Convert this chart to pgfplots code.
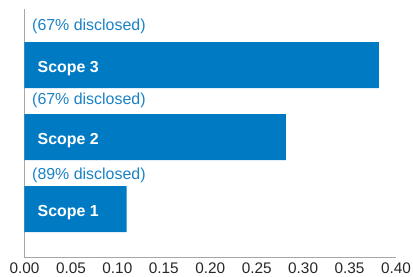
\documentclass[border=0pt]{standalone}
\usepackage{pgfplots}
\pgfplotsset{compat=1.18}
\usepackage{fontspec}
\setmainfont{Liberation Sans}
\definecolor{barblue}{HTML}{007BC3}
\definecolor{txtblue}{HTML}{1A82C6}
\begin{document}
\begin{tikzpicture}
\path (0,0) rectangle (413bp,277bp);
\begin{axis}[at={(24.5bp,20bp)}, anchor=south west, scale only axis,
  width=371.5bp, height=248bp,
  xbar, bar width=46bp, xmin=0, xmax=0.4, ymin=-0.667, ymax=2.78,
  enlargelimits=false, clip=false,
  axis x line*=bottom, axis y line*=left,
  axis line style={draw=black!35, line width=0.8pt, -},
  xtick={0,0.05,0.10,0.15,0.20,0.25,0.30,0.35,0.40}, ytick=\empty,
  major tick length=0pt,
  xticklabel style={font=\fontsize{15.4}{17}\selectfont, text=black!85, anchor=base, yshift=-16.5bp, inner sep=0pt},
  /pgf/number format/.cd, fixed, fixed zerofill, precision=2, assume math mode=true,
]
\addplot[fill=barblue, draw=none] coordinates {(0.110,0) (0.2815,1) (0.3815,2)};
\node[anchor=base west, inner sep=0pt, text=white, font=\fontsize{16}{18}\selectfont\bfseries, xshift=13bp, yshift=-7.4bp] at (axis cs:0,0) {Scope 1};
\node[anchor=base west, inner sep=0pt, text=white, font=\fontsize{16}{18}\selectfont\bfseries, xshift=13bp, yshift=-7.4bp] at (axis cs:0,1) {Scope 2};
\node[anchor=base west, inner sep=0pt, text=white, font=\fontsize{16}{18}\selectfont\bfseries, xshift=13bp, yshift=-7.4bp] at (axis cs:0,2) {Scope 3};
\node[anchor=base west, inner sep=0pt, text=txtblue, font=\fontsize{16}{18}\selectfont, xshift=7.5bp] at (axis cs:0,0.417) {(89\% disclosed)};
\node[anchor=base west, inner sep=0pt, text=txtblue, font=\fontsize{16}{18}\selectfont, xshift=7.5bp] at (axis cs:0,1.451) {(67\% disclosed)};
\node[anchor=base west, inner sep=0pt, text=txtblue, font=\fontsize{16}{18}\selectfont, xshift=7.5bp] at (axis cs:0,2.486) {(67\% disclosed)};
\end{axis}
\end{tikzpicture}
\end{document}
